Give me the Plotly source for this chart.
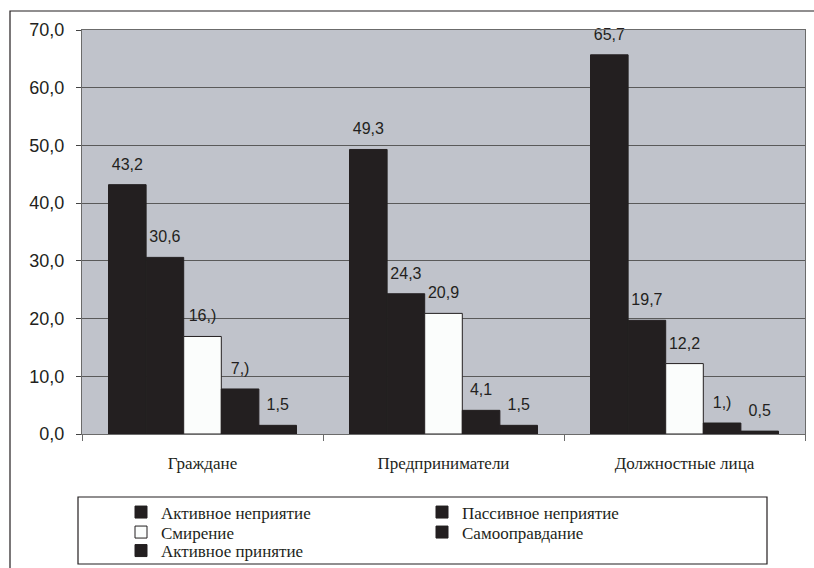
import plotly.graph_objects as go

categories = ["Граждане", "Предприниматели", "Должностные лица"]
series_names = ["Активное неприятие", "Пассивное неприятие", "Смирение",
                "Самооправдание", "Активное принятие"]
values = {
    "Активное неприятие": [43.2, 49.3, 65.7],
    "Пассивное неприятие": [30.6, 24.3, 19.7],
    "Смирение": [16.9, 20.9, 12.2],
    "Самооправдание": [7.8, 4.1, 1.9],
    "Активное принятие": [1.5, 1.5, 0.5],
}
labels = {
    "Активное неприятие": ["43,2", "49,3", "65,7"],
    "Пассивное неприятие": ["30,6", "24,3", "19,7"],
    "Смирение": ["16,)", "20,9", "12,2"],
    "Самооправдание": ["7,)", "4,1", "1,)"],
    "Активное принятие": ["1,5", "1,5", "0,5"],
}
fill_colors = ["#231f20", "#231f20", "#fbfdfc", "#231f20", "#231f20"]
legend_rows = ["legend", "legend", "legend2", "legend2", "legend3"]

W, H = 814, 568
ML, MR, MT, MB = 82, 9, 30, 134
PW, PH = W - ML - MR, H - MT - MB

def px(xp):
    return (xp - ML) / PW

def py(yp):
    return (H - MB - yp) / PH

fig = go.Figure()
GAP = 0.22
for name, col, lg in zip(series_names, fill_colors, legend_rows):
    fig.add_trace(go.Bar(
        x=categories, y=values[name], name=name, legend=lg,
        marker=dict(color=col, line=dict(color="#231f20", width=1)),
        hoverinfo="skip",
    ))
for name in series_names:
    fig.add_trace(go.Scatter(
        x=categories, y=values[name], text=labels[name],
        mode="markers+text", textposition="top center",
        marker=dict(size=16, opacity=0),
        textfont=dict(family="Liberation Sans, Arial, sans-serif", size=16, color="#231f20"),
        showlegend=False, hoverinfo="skip", cliponaxis=False,
    ))

legend_font = dict(family="Liberation Serif, Times New Roman, serif", size=17, color="#231f20")

def legend_row(center_y):
    return dict(
        orientation="h", x=px(121), y=py(center_y), xanchor="left", yanchor="middle",
        entrywidth=256, traceorder="normal", font=legend_font,
        bgcolor="rgba(0,0,0,0)", borderwidth=0,
    )

fig.update_layout(
    width=W, height=H,
    margin=dict(l=ML, r=MR, t=MT, b=MB, autoexpand=False),
    paper_bgcolor="white",
    plot_bgcolor="#c0c3cb",
    barmode="group", bargap=GAP, bargroupgap=0,
    scattermode="group", scattergap=GAP,
    separators=", ",
    showlegend=True,
    legend=legend_row(512.5),
    legend2=legend_row(532.5),
    legend3=legend_row(551),
    xaxis=dict(
        type="category", tickson="boundaries", ticks="outside", ticklen=6,
        tickcolor="#6b6b6b", showline=True, linecolor="#6b6b6b", linewidth=1,
        mirror=True, showgrid=False, ticklabelstandoff=14,
        tickfont=dict(family="Liberation Serif, Times New Roman, serif", size=17, color="#231f20"),
    ),
    yaxis=dict(
        range=[0, 70], dtick=10, tickformat=".1f", ticks="outside", ticklen=5,
        tickcolor="#444", showline=True, linecolor="#6b6b6b", linewidth=1,
        mirror=True, showgrid=True, gridcolor="#5a5a5a", gridwidth=1,
        zeroline=False, ticklabelstandoff=8,
        tickfont=dict(family="Liberation Sans, Arial, sans-serif", size=18, color="#231f20"),
    ),
    shapes=[
        dict(type="rect", xref="paper", yref="paper",
             x0=px(10), x1=px(830), y0=py(600), y1=py(11),
             line=dict(color="#231f20", width=1.2), fillcolor="rgba(0,0,0,0)", layer="below"),
        dict(type="rect", xref="paper", yref="paper",
             x0=px(78), x1=px(767), y0=py(564), y1=py(497),
             line=dict(color="#231f20", width=1.2), fillcolor="rgba(0,0,0,0)"),
    ],
)

fig.write_html("out.html", config={"displayModeBar": False},
               post_script="document.body.style.margin='0';")
